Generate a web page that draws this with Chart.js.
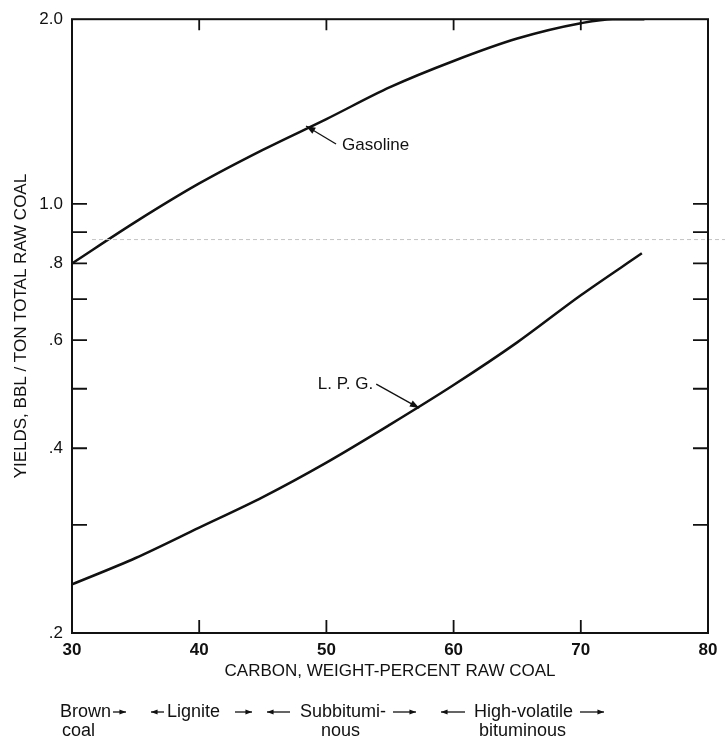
<!DOCTYPE html>
<html>
<head>
<meta charset="utf-8">
<script src="https://cdn.jsdelivr.net/npm/chart.js@4"></script>
<style>
  html, body { margin: 0; padding: 0; background: #fff; }
  #wrap { width: 725px; height: 745px; }
</style>
</head>
<body>
<div id="wrap"><canvas id="coal-chart" width="725" height="745"></canvas></div>
<script>
// values
const carbonGas = [30, 35, 40, 45, 50, 55, 60, 65, 70, 72.5, 75];
const gasolineYield = [0.8, 0.935, 1.08, 1.225, 1.375, 1.55, 1.71, 1.86, 1.97, 2.0, 2.0];
const carbonLpg = [30, 35, 40, 45, 50, 55, 60, 65, 70, 74.8];
const lpgYield = [0.24, 0.265, 0.297, 0.333, 0.379, 0.437, 0.507, 0.595, 0.71, 0.831];

const xTicks = [30, 40, 50, 60, 70, 80];
const yTicks = [0.2, 0.3, 0.4, 0.5, 0.6, 0.7, 0.8, 0.9, 1.0, 2.0];
const yTickLabels = [".2", "", ".4", "", ".6", "", ".8", "", "1.0", "2.0"];

const curveNames = ["Gasoline", "L. P. G."];
const pointerX = [48.4, 57.3];
const pointerY = [1.34, 0.465];

const rankTop = ["Brown", "Lignite", "Subbitumi-", "High-volatile"];
const rankBottom = ["coal", "", "nous", "bituminous"];

const FONT = "'Liberation Sans', Arial, sans-serif";

function arrowHead(ctx, x1, y1, x2, y2, size) {
  const a = Math.atan2(y2 - y1, x2 - x1);
  ctx.beginPath();
  ctx.moveTo(x2, y2);
  ctx.lineTo(x2 - size * Math.cos(a - 0.35), y2 - size * Math.sin(a - 0.35));
  ctx.lineTo(x2 - size * Math.cos(a + 0.35), y2 - size * Math.sin(a + 0.35));
  ctx.closePath();
  ctx.fill();
}

function rankArrow(ctx, x1, x2, y) {
  ctx.beginPath();
  ctx.moveTo(x1, y);
  ctx.lineTo(x2, y);
  ctx.stroke();
  arrowHead(ctx, x1, y, x2, y, 7);
}

const extras = {
  id: "extras",
  afterDraw(chart) {
    const ctx = chart.ctx;
    const a = chart.chartArea;
    const xs = chart.scales.x;
    const ys = chart.scales.y;
    ctx.save();

    // faint scan line across the sheet
    ctx.strokeStyle = "#c4c4c4";
    ctx.lineWidth = 1;
    ctx.setLineDash([4, 3]);
    const yl = ys.getPixelForValue(0.875);
    ctx.beginPath();
    ctx.moveTo(a.left + 20, yl);
    ctx.lineTo(chart.width, yl);
    ctx.stroke();
    ctx.setLineDash([]);

    // frame
    ctx.strokeStyle = "#111";
    ctx.lineWidth = 2;
    ctx.strokeRect(a.left, a.top, a.right - a.left, a.bottom - a.top);

    // inside ticks
    ctx.lineWidth = 1.8;
    ctx.beginPath();
    xTicks.slice(1, -1).forEach((v) => {
      const px = xs.getPixelForValue(v);
      ctx.moveTo(px, a.bottom);
      ctx.lineTo(px, a.bottom - 13);
      ctx.moveTo(px, a.top);
      ctx.lineTo(px, a.top + 11);
    });
    yTicks.slice(1, -1).forEach((v) => {
      const py = ys.getPixelForValue(v);
      ctx.moveTo(a.left, py);
      ctx.lineTo(a.left + 15, py);
      ctx.moveTo(a.right, py);
      ctx.lineTo(a.right - 15, py);
    });
    ctx.stroke();

    // curve labels with pointers
    ctx.fillStyle = "#111";
    ctx.font = "17px " + FONT;
    ctx.textBaseline = "middle";
    ctx.lineWidth = 1.3;
    curveNames.forEach((name, i) => {
      const tx = xs.getPixelForValue(pointerX[i]);
      const ty = ys.getPixelForValue(pointerY[i]);
      let sx, sy;
      if (i === 0) {
        sx = tx + 30; sy = ty + 18;
        ctx.textAlign = "left";
        ctx.fillText(name, sx + 6, sy + 1);
      } else {
        sx = tx - 43; sy = ty - 24;
        ctx.textAlign = "right";
        ctx.fillText(name, sx - 3, sy);
      }
      ctx.beginPath();
      ctx.moveTo(sx, sy);
      ctx.lineTo(tx, ty);
      ctx.stroke();
      arrowHead(ctx, sx, sy, tx, ty, 10);
    });

    // coal rank row under the axis
    ctx.font = "18px " + FONT;
    ctx.textAlign = "left";
    const row1 = 712, row2 = 731;
    const starts = [60, 167, 300, 474];
    const starts2 = [62, 0, 321, 479];
    rankTop.forEach((t, i) => ctx.fillText(t, starts[i], row1));
    rankBottom.forEach((t, i) => { if (t) ctx.fillText(t, starts2[i], row2); });
    ctx.lineWidth = 1.3;
    rankArrow(ctx, 113, 126, row1);
    rankArrow(ctx, 164, 151, row1);
    rankArrow(ctx, 235, 252, row1);
    rankArrow(ctx, 290, 267, row1);
    rankArrow(ctx, 393, 416, row1);
    rankArrow(ctx, 465, 441, row1);
    rankArrow(ctx, 580, 604, row1);

    ctx.restore();
  },
};

new Chart(document.getElementById("coal-chart"), {
  type: "scatter",
  data: {
    datasets: [
      {
        label: "Gasoline",
        data: carbonGas.map((x, i) => ({ x: x, y: gasolineYield[i] })),
        showLine: true,
        borderColor: "#111",
        borderWidth: 2.5,
        pointRadius: 0,
        cubicInterpolationMode: "monotone",
      },
      {
        label: "L. P. G.",
        data: carbonLpg.map((x, i) => ({ x: x, y: lpgYield[i] })),
        showLine: true,
        borderColor: "#111",
        borderWidth: 2.5,
        pointRadius: 0,
        cubicInterpolationMode: "monotone",
      },
    ],
  },
  options: {
    responsive: false,
    animation: false,
    layout: { padding: { top: 15, right: 17, left: 0, bottom: 0 } },
    plugins: { legend: { display: false }, tooltip: { enabled: false } },
    scales: {
      x: {
        type: "linear",
        min: 30,
        max: 80,
        afterFit: (s) => { s.height = 112; },
        afterBuildTicks: (s) => { s.ticks = xTicks.map((v) => ({ value: v })); },
        grid: { display: false, drawTicks: false },
        border: { display: false },
        ticks: {
          color: "#111",
          padding: 7,
          maxRotation: 0,
          font: { family: FONT, size: 17, weight: "bold" },
          callback: (v) => String(v),
        },
        title: {
          display: true,
          text: "CARBON, WEIGHT-PERCENT RAW COAL",
          color: "#111",
          font: { family: FONT, size: 17 },
          padding: { top: 0, bottom: 63 },
        },
      },
      y: {
        type: "logarithmic",
        min: 0.2,
        max: 2.0,
        afterFit: (s) => { s.width = 72; },
        afterBuildTicks: (s) => { s.ticks = yTicks.map((v) => ({ value: v })); },
        grid: { display: false, drawTicks: false },
        border: { display: false },
        ticks: {
          color: "#111",
          padding: 9,
          autoSkip: false,
          font: { family: FONT, size: 17 },
          callback: (v, i) => yTickLabels[i],
        },
        title: {
          display: true,
          text: "YIELDS, BBL / TON TOTAL RAW COAL",
          color: "#111",
          font: { family: FONT, size: 17 },
          padding: { top: 11, bottom: 0 },
        },
      },
    },
  },
  plugins: [extras],
});
</script>
</body>
</html>
